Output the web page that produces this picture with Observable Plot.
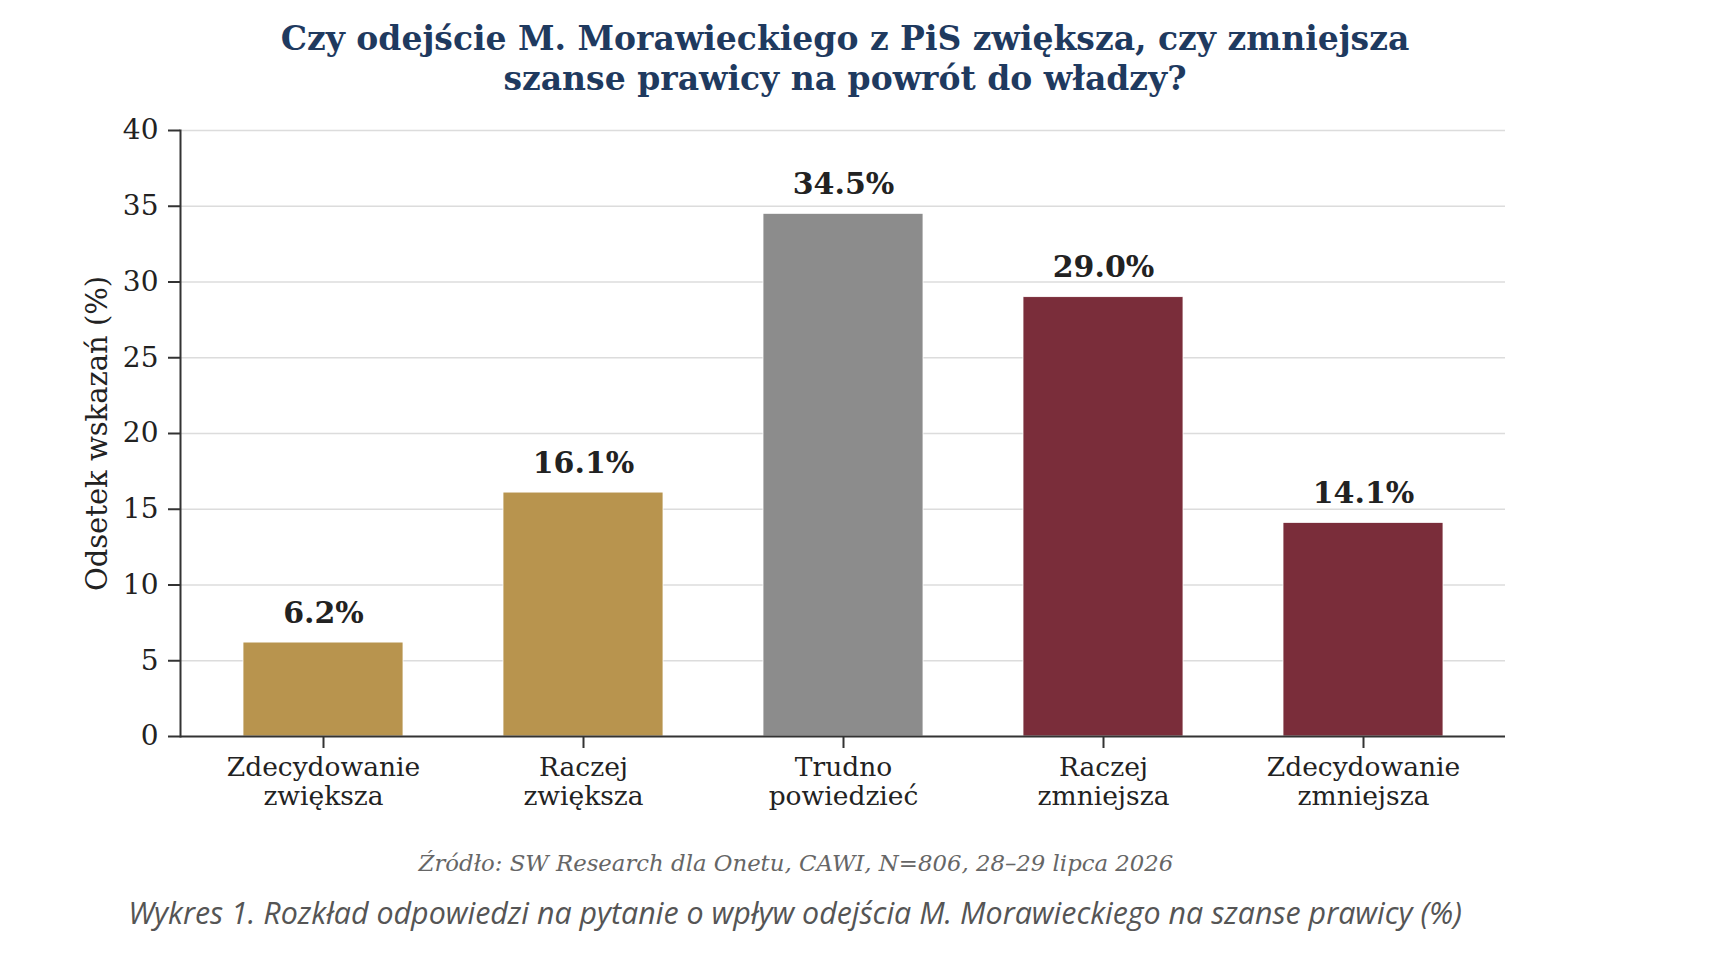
<!DOCTYPE html>
<html>
<head>
<meta charset="utf-8">
<script src="https://cdn.jsdelivr.net/npm/d3@7"></script>
<script src="https://cdn.jsdelivr.net/npm/@observablehq/plot@0.6"></script>
<style>
  html, body { margin: 0; padding: 0; background: #fff; }
  #wrap { position: relative; width: 1713px; height: 958px; overflow: hidden; }
  .t { position: absolute; white-space: nowrap; transform: translateX(-50%); }
  #title { left: 845px; top: 19px; font-family: "DejaVu Serif"; font-weight: bold; font-size: 33px; line-height: 40px; color: #1f3a5f; text-align: center; }
  #source { left: 796px; top: 850px; font-family: "DejaVu Serif"; font-style: italic; font-size: 22.8px; line-height: 26px; color: #666; }
  #caption { left: 795px; top: 895px; font-family: "Open Sans"; font-style: italic; font-size: 30.4px; line-height: 36px; color: #555; }
</style>
</head>
<body>
<div id="wrap">
  <div id="chart"></div>
  <div id="title" class="t">Czy odejście M. Morawieckiego z PiS zwiększa, czy zmniejsza<br>szanse prawicy na powrót do władzy?</div>
  <div id="source" class="t">Źródło: SW Research dla Onetu, CAWI, N=806, 28–29 lipca 2026</div>
  <div id="caption" class="t">Wykres 1. Rozkład odpowiedzi na pytanie o wpływ odejścia M. Morawieckiego na szanse prawicy (%)</div>
</div>
<script>
const categories = ["Zdecydowanie\nzwiększa", "Raczej\nzwiększa", "Trudno\npowiedzieć", "Raczej\nzmniejsza", "Zdecydowanie\nzmniejsza"];
const values = [6.2, 16.1, 34.5, 29.0, 14.1];
const barColors = ["#b8944e", "#b8944e", "#8c8c8c", "#7a2d3a", "#7a2d3a"];
const yTicks = [0, 5, 10, 15, 20, 25, 30, 35, 40];

const data = categories.map((c, i) => ({cat: c, val: values[i], color: barColors[i]}));

const serif = "DejaVu Serif";

const chart = Plot.plot({
  width: 1713,
  height: 958,
  marginLeft: 180,
  marginRight: 208,
  marginTop: 130,
  marginBottom: 222,
  style: {fontFamily: serif, background: "white", overflow: "visible"},
  x: {domain: categories, paddingInner: 0.386, paddingOuter: 0.233, label: null},
  y: {domain: [0, 40], label: null},
  marks: [
    Plot.gridY(yTicks.filter(d => d > 0), {stroke: "#dcdcdc", strokeOpacity: 1, strokeWidth: 1.5}),
    Plot.barY(data, {x: "cat", y: "val", fill: "color", stroke: "#ffffff", strokeWidth: 0.8}),
    Plot.text(data, {x: "cat", y: "val", text: d => d.val.toFixed(1) + "%", dy: -20, lineAnchor: "bottom", fontWeight: "bold", fontSize: 30, fill: "#222", fontFamily: serif}),
    Plot.axisY({ticks: yTicks, tickSize: 12, tickPadding: 10, fontSize: 28, stroke: "#333", strokeWidth: 2, color: "#222",
      label: null}),
    Plot.axisY({ticks: [], tickSize: 0, fontSize: 29, color: "#222",
      label: "Odsetek wskazań (%)", labelAnchor: "center", labelArrow: "none", labelOffset: 94}),
    Plot.axisX({tickSize: 12, tickPadding: 6, fontSize: 26.5, lineHeight: 1.12, stroke: "#333", strokeWidth: 2, color: "#222", label: null}),
    Plot.ruleY([0], {stroke: "#333", strokeWidth: 2}),
    Plot.frame({anchor: "left", stroke: "#333", strokeWidth: 2})
  ]
});
document.getElementById("chart").appendChild(chart);
</script>
</body>
</html>
